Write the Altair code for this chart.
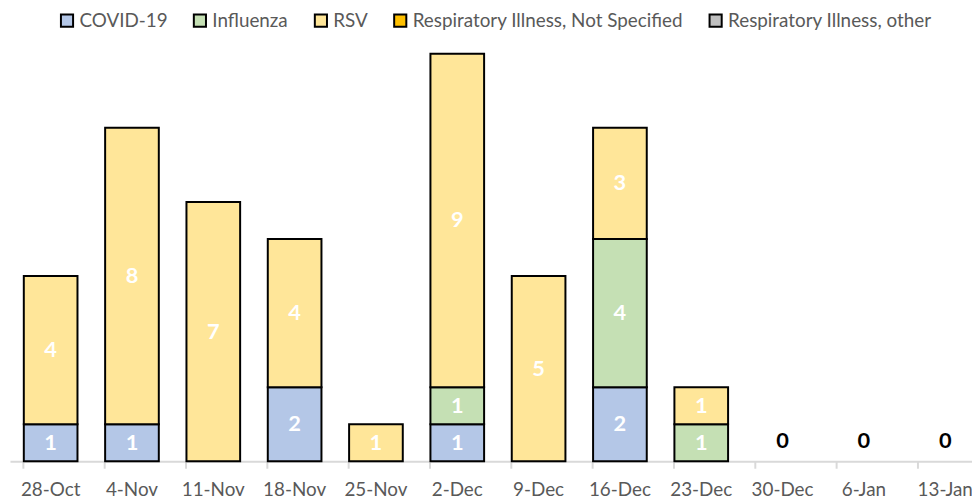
import altair as alt
import pandas as pd

weeks = ["28-Oct", "4-Nov", "11-Nov", "18-Nov", "25-Nov", "2-Dec", "9-Dec",
         "16-Dec", "23-Dec", "30-Dec", "6-Jan", "13-Jan"]
series = ["COVID-19", "Influenza", "RSV", "Respiratory Illness, Not Specified",
          "Respiratory Illness, other"]
colors = ["#B4C7E7", "#C5E0B4", "#FFE699", "#FFC000", "#BFBFBF"]

covid = [1, 1, 0, 2, 0, 1, 0, 2, 0, 0, 0, 0]
flu = [0, 0, 0, 0, 0, 1, 0, 4, 1, 0, 0, 0]
rsv = [4, 8, 7, 4, 1, 9, 5, 3, 1, 0, 0, 0]
not_spec = [0] * 12
other = [0] * 12

rows = []
for i, w in enumerate(weeks):
    base = 0
    for k, (s, vals) in enumerate(zip(series, [covid, flu, rsv, not_spec, other])):
        v = vals[i]
        rows.append({"week": w, "series": s, "order": k, "value": v,
                     "lo": base, "hi": base + v, "mid": base + v / 2})
        base += v
df = pd.DataFrame(rows)
totals = pd.DataFrame({"week": weeks,
                       "total": [a + b + c + d + e for a, b, c, d, e in
                                 zip(covid, flu, rsv, not_spec, other)]})

xenc = alt.X("week:N", sort=weeks,
             scale=alt.Scale(paddingInner=0.34, paddingOuter=0.17, range=[0, 984]),
             axis=alt.Axis(title=None, labelAngle=0, labelFont="Lato", labelFontSize=19,
                           labelColor="#595959", labelPadding=12, domainColor="#D9D9D9",
                           domainWidth=2, tickColor="#D9D9D9", tickWidth=2, tickSize=7,
                           bandPosition=0, grid=False))
yscale = alt.Scale(domain=[0, 11], nice=False)

bars = alt.Chart(df).transform_filter("datum.value > 0").mark_bar(
    stroke="black", strokeWidth=2
).encode(
    x=xenc,
    y=alt.Y("lo:Q", scale=yscale, axis=None),
    y2="hi:Q",
    color=alt.Color("series:N", sort=series,
                    scale=alt.Scale(domain=series, range=colors),
                    legend=alt.Legend(title=None, orient="none", direction="horizontal",
                                      legendX=48, legendY=-43, symbolType="square",
                                      symbolSize=150, symbolStrokeColor="black",
                                      symbolStrokeWidth=2, labelFont="Lato",
                                      labelFontSize=19, labelColor="#595959",
                                      labelLimit=500, columnPadding=22, labelOffset=3)),
)

labels = alt.Chart(df).transform_filter("datum.value > 0").mark_text(
    color="white", fontWeight="bold", fontSize=22, font="Lato", baseline="middle"
).encode(
    x=alt.X("week:N", sort=weeks),
    y=alt.Y("mid:Q", scale=yscale),
    text="value:Q",
)

zeros = alt.Chart(totals).transform_filter("datum.total == 0").mark_text(
    color="black", fontWeight="bold", fontSize=22, font="Lato", baseline="bottom", dy=-8
).encode(
    x=alt.X("week:N", sort=weeks),
    y=alt.Y("total:Q", scale=yscale),
    text="total:Q",
)

chart = alt.layer(bars, labels, zeros).properties(
    width=970, height=411,
    autosize=alt.AutoSizeParams(type="none"),
    padding={"left": 2, "top": 44, "right": 0, "bottom": 40},
).configure_view(stroke=None)

chart.save("out.html", embed_options={"renderer": "svg", "actions": False})
